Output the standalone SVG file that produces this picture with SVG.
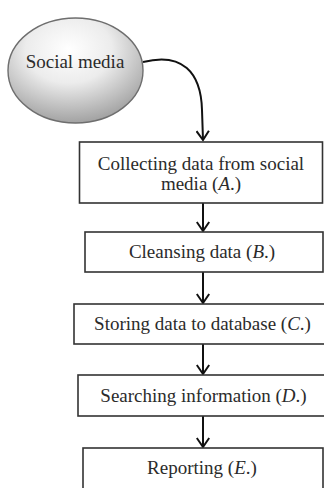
<svg xmlns="http://www.w3.org/2000/svg" width="324" height="488" viewBox="0 0 324 488">
  <defs>
    <radialGradient id="sphere" cx="0.45" cy="0.3" r="0.8">
      <stop offset="0" stop-color="#ffffff"/>
      <stop offset="0.4" stop-color="#ececec"/>
      <stop offset="1" stop-color="#8f8f8f"/>
    </radialGradient>
    <marker id="vee" markerWidth="12" markerHeight="14" refX="10" refY="7" orient="auto" markerUnits="userSpaceOnUse" viewBox="0 0 12 14">
      <path d="M1,0.8 L10,7 L1,13.2" fill="none" stroke="#111" stroke-width="2" stroke-linejoin="miter"/>
    </marker>
  </defs>
  <style>
    text { font-family: "Liberation Serif", "Times New Roman", serif; font-size: 19px; fill: #2b2b2b; text-anchor: middle; }
    .box { fill: #fff; stroke: #333; stroke-width: 1.6; }
    .edge { fill: none; stroke: #111; stroke-width: 2; marker-end: url(#vee); }
  </style>
  <rect width="324" height="488" fill="#fff"/>

  <g id="social-media">
    <ellipse cx="75.5" cy="70.5" rx="67.5" ry="52.5" fill="url(#sphere)" stroke="#6e6e6e" stroke-width="1.4"/>
    <text x="75" y="68">Social media</text>
  </g>

  <g id="connectors">
    <path class="edge" d="M143,62 C182,52 201,72 202,110 L203,140"/>
    <path class="edge" d="M203,203 L203,231"/>
    <path class="edge" d="M203,272 L203,303"/>
    <path class="edge" d="M203,344 L203,374"/>
    <path class="edge" d="M203,416 L203,447"/>
  </g>

  <g id="collecting">
    <rect class="box" x="79.5" y="142" width="243" height="61"/>
    <text x="201" y="170">Collecting data from social</text>
    <text x="201" y="190">media (<tspan font-style="italic">A</tspan>.)</text>
  </g>

  <g id="cleansing">
    <rect class="box" x="85" y="232" width="238" height="40"/>
    <text x="202" y="258">Cleansing data (<tspan font-style="italic">B</tspan>.)</text>
  </g>

  <g id="storing">
    <rect class="box" x="74" y="304" width="260" height="40"/>
    <text x="202.5" y="330">Storing data to database (<tspan font-style="italic">C</tspan>.)</text>
  </g>

  <g id="searching">
    <rect class="box" x="78" y="375" width="256" height="41"/>
    <text x="203.5" y="402">Searching information (<tspan font-style="italic">D</tspan>.)</text>
  </g>

  <g id="reporting">
    <rect class="box" x="83" y="448" width="240" height="50"/>
    <text x="202" y="474">Reporting (<tspan font-style="italic">E</tspan>.)</text>
  </g>
</svg>
